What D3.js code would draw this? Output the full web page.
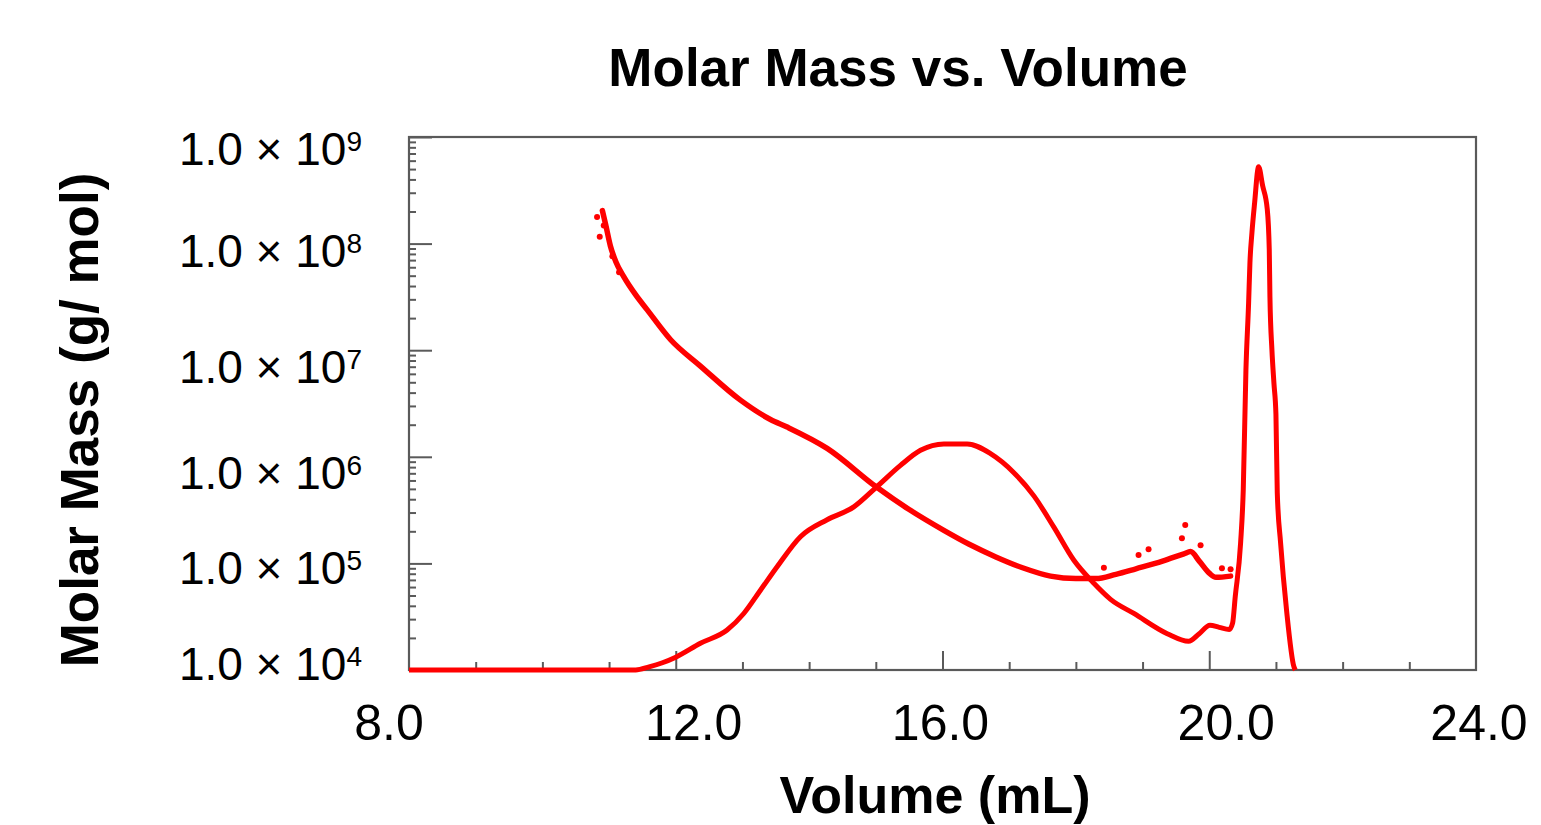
<!DOCTYPE html>
<html>
<head>
<meta charset="utf-8">
<script src="https://cdn.jsdelivr.net/npm/d3@7"></script>
<style>
  html, body { margin: 0; padding: 0; background: #fff; }
  svg { display: block; }
</style>
</head>
<body>
<svg id="chart" width="1541" height="825"></svg>
<script>
// ---------- data ----------
const chartTitle = "Molar Mass vs. Volume";
const xTitle = "Volume (mL)";
const yTitle = "Molar Mass (g/ mol)";

const xTickValues = [8, 12, 16, 20, 24];
const xTickLabels = ["8.0", "12.0", "16.0", "20.0", "24.0"];
const yTickValues = [1e4, 1e5, 1e6, 1e7, 1e8, 1e9];
const yTickExponents = ["4", "5", "6", "7", "8", "9"];

// molar mass trace (volume mL, g/mol)
const massVolume = [10.90, 10.95, 11.02, 11.10, 11.22, 11.40, 11.57, 11.92, 12.37, 12.97, 13.42, 13.67, 14.27,
  15.01, 15.50, 16.02, 16.40, 16.80, 17.20, 17.62, 18.00, 18.30, 18.60, 18.90, 19.30, 19.62, 19.72, 19.85,
  20.00, 20.10, 20.32];
const massValue = [2.04e8, 1.5e8, 9.5e7, 6.8e7, 4.9e7, 3.3e7, 2.4e7, 1.26e7, 7.1e6, 3.4e6, 2.24e6, 1.9e6, 1.2e6,
  5.2e5, 3.2e5, 2.04e5, 1.51e5, 1.15e5, 9.1e4, 7.6e4, 7.2e4, 7.2e4, 7.9e4, 8.9e4, 1.05e5, 1.23e5, 1.29e5, 1.05e5,
  8.1e4, 7.4e4, 7.6e4];

// scattered molar-mass points off the main trace
const scatterVolume = [10.82, 10.86, 10.92, 11.05, 11.15, 18.42, 18.94, 19.09, 19.59, 19.64, 19.87, 20.19, 20.32];
const scatterValue = [1.78e8, 1.16e8, 1.48e8, 7.6e7, 5.4e7, 9.1e4, 1.2e5, 1.36e5, 1.72e5, 2.29e5, 1.48e5, 9.0e4, 8.8e4];

// concentration trace drawn on the same axes
const concVolume = [8.00, 11.40, 11.60, 11.80, 12.00, 12.37, 12.77, 13.02, 13.27, 13.52, 13.87, 14.27, 14.67,
  15.01, 15.37, 15.67, 16.02, 16.37, 16.72, 17.07, 17.37, 17.67, 17.97, 18.27, 18.52, 18.87, 19.37, 19.69,
  19.85, 20.01, 20.15, 20.30, 20.35, 20.39, 20.47, 20.51, 20.55, 20.59, 20.61, 20.64, 20.68, 20.74, 20.80,
  20.87, 20.90, 20.91, 20.94, 20.97, 21.00, 21.02, 21.07, 21.16, 21.27, 21.29];
const concValue = [1.0e4, 1.0e4, 1.07e4, 1.17e4, 1.32e4, 1.78e4, 2.37e4, 3.39e4, 5.6e4, 9.3e4, 1.78e5, 2.57e5, 3.39e5,
  5.2e5, 8.3e5, 1.15e6, 1.32e6, 1.32e6, 1.07e6, 7.1e5, 4.3e5, 2.19e5, 1.07e5, 6.5e4, 4.6e4, 3.39e4, 2.19e4, 1.86e4,
  2.19e4, 2.63e4, 2.51e4, 2.4e4, 2.75e4, 4.9e4, 1.55e5, 4.9e5, 6.5e6, 2.75e7, 6.6e7, 1.26e8, 2.4e8, 5.25e8, 3.5e8,
  2.1e8, 8.7e7, 3.16e7, 1.0e7, 4.9e6, 2.5e6, 4.6e5, 1.55e5, 3.6e4, 1.07e4, 1.0e4];

// ---------- layout ----------
const svg = d3.select("#chart");
const L = 409, R = 1476, T = 137, B = 670;
const font = "'Liberation Sans', Arial, Helvetica, sans-serif";
const red = "#ff0000";
const axisColor = "#5a5a5a";

const x = d3.scaleLinear().domain([8, 24]).range([L, R]);
const y = d3.scaleLog().domain([1e4, 1e9]).range([B, T]);

// tick-label placement nudges (as positioned in the reference)
const xLabelNudge = [-20, 18, -2, 17, 3];
const yLabelNudge = [-5.6, 5, 15.7, 16.3, 7.7, 11.7];

// frame
svg.append("rect")
  .attr("x", L).attr("y", T).attr("width", R - L).attr("height", B - T)
  .attr("fill", "none").attr("stroke", axisColor).attr("stroke-width", 2.2);

// y minor ticks
const yMinor = [];
for (let e = 4; e < 9; e++) for (let m = 2; m <= 9; m++) yMinor.push(m * Math.pow(10, e));
const yMinorAxis = d3.axisLeft(y).tickValues(yMinor).tickSize(-7).tickFormat("");
const yMajorAxis = d3.axisLeft(y).tickValues(yTickValues).tickSize(-23).tickFormat("");
[yMinorAxis, yMajorAxis].forEach(ax => {
  const g = svg.append("g").attr("transform", `translate(${L},0)`).call(ax);
  g.select(".domain").remove();
  g.selectAll("line").attr("stroke", axisColor).attr("stroke-width", 2);
});

// x ticks
const xMinor = d3.range(9, 24).filter(v => v % 4 !== 0);
const xMinorAxis = d3.axisBottom(x).tickValues(xMinor).tickSize(-8).tickFormat("");
const xMajorAxis = d3.axisBottom(x).tickValues(xTickValues.slice(1, -1)).tickSize(-19).tickFormat("");
[xMinorAxis, xMajorAxis].forEach(ax => {
  const g = svg.append("g").attr("transform", `translate(0,${B})`).call(ax);
  g.select(".domain").remove();
  g.selectAll("line").attr("stroke", axisColor).attr("stroke-width", 2);
});

// x tick labels
svg.append("g").selectAll("text").data(xTickValues).join("text")
  .attr("x", (d, i) => x(d) + xLabelNudge[i])
  .attr("y", 740)
  .attr("text-anchor", "middle")
  .attr("font-family", font).attr("font-size", 50).attr("fill", "#000")
  .text((d, i) => xTickLabels[i]);

// y tick labels
const yl = svg.append("g").selectAll("text").data(yTickValues).join("text")
  .attr("x", 362)
  .attr("y", (d, i) => y(d) + 16 + yLabelNudge[i])
  .attr("text-anchor", "end")
  .attr("font-family", font).attr("font-size", 46).attr("fill", "#000");
yl.append("tspan").text("1.0 × 10");
yl.append("tspan").attr("font-size", 28).attr("dy", -14).text((d, i) => yTickExponents[i]);

// titles
svg.append("text")
  .attr("x", 898).attr("y", 86)
  .attr("text-anchor", "middle")
  .attr("font-family", font).attr("font-weight", "bold").attr("font-size", 53)
  .text(chartTitle);

svg.append("text")
  .attr("x", 935).attr("y", 813)
  .attr("text-anchor", "middle")
  .attr("font-family", font).attr("font-weight", "bold").attr("font-size", 52)
  .text(xTitle);

svg.append("text")
  .attr("transform", "translate(98,420) rotate(-90)")
  .attr("text-anchor", "middle")
  .attr("font-family", font).attr("font-weight", "bold").attr("font-size", 53)
  .text(yTitle);

// ---------- series ----------
const plot = svg.append("g");
const line = d3.line().x(d => x(d[0])).y(d => y(d[1])).curve(d3.curveMonotoneX);

const concData = concVolume.map((v, i) => [v, concValue[i]]);
const massData = massVolume.map((v, i) => [v, massValue[i]]);

plot.append("path").datum(concData)
  .attr("d", line).attr("fill", "none")
  .attr("stroke", red).attr("stroke-width", 5).attr("stroke-linejoin", "round");

plot.append("path").datum(massData)
  .attr("d", line).attr("fill", "none")
  .attr("stroke", red).attr("stroke-width", 5.5).attr("stroke-linejoin", "round").attr("stroke-linecap", "round");

plot.selectAll("circle.sc").data(scatterVolume.map((v, i) => [v, scatterValue[i]])).join("circle")
  .attr("class", "sc")
  .attr("cx", d => x(d[0])).attr("cy", d => y(d[1])).attr("r", 3)
  .attr("fill", red);
</script>
</body>
</html>
